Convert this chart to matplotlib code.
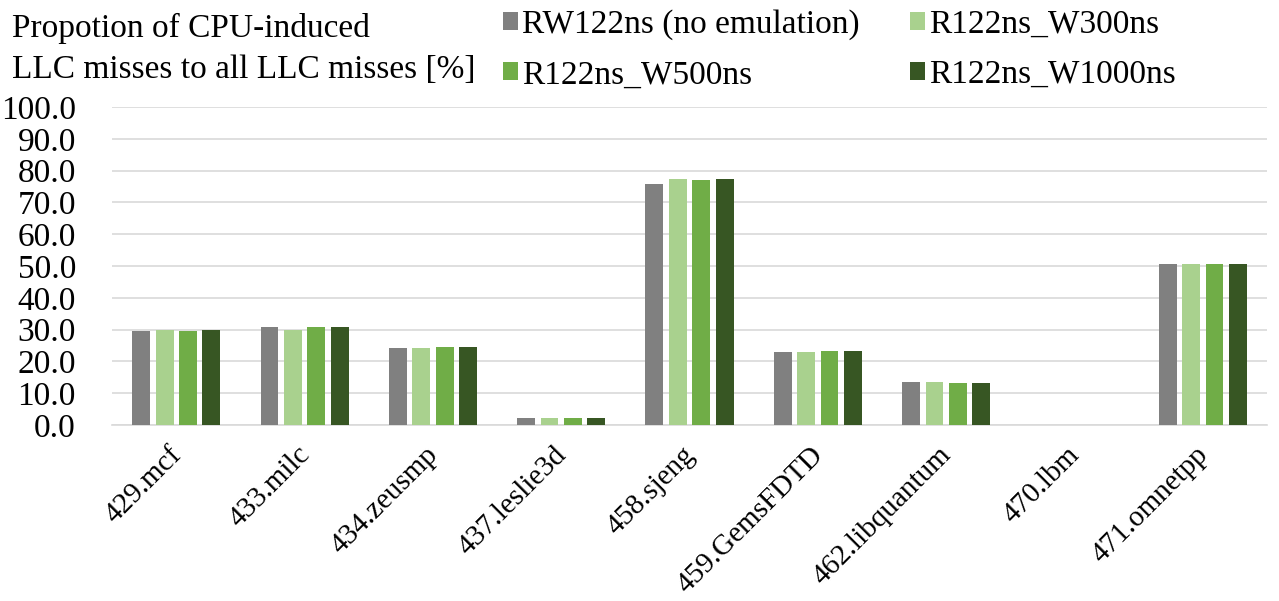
import matplotlib
matplotlib.use("Agg")
import matplotlib.pyplot as plt
import matplotlib.transforms as mtransforms
import numpy as np

categories = ["429.mcf", "433.milc", "434.zeusmp", "437.leslie3d", "458.sjeng",
              "459.GemsFDTD", "462.libquantum", "470.lbm", "471.omnetpp"]
series_names = ["RW122ns (no emulation)", "R122ns_W300ns", "R122ns_W500ns", "R122ns_W1000ns"]
rw122 = [29.6, 30.8, 24.2, 2.3, 75.8, 23.0, 13.4, 0.0, 50.6]
w300 = [29.8, 30.0, 24.3, 2.3, 77.3, 23.0, 13.4, 0.0, 50.6]
w500 = [29.7, 30.8, 24.5, 2.3, 77.2, 23.2, 13.3, 0.0, 50.6]
w1000 = [30.0, 30.8, 24.5, 2.3, 77.4, 23.3, 13.3, 0.0, 50.8]
yticks = [0, 10, 20, 30, 40, 50, 60, 70, 80, 90, 100]
colors = ["#808080", "#A9D18E", "#70AD47", "#375623"]

plt.rcParams['font.family'] = ['Liberation Serif', 'DejaVu Serif']

fig = plt.figure(figsize=(12.79, 6.01), dpi=100)
ax = fig.add_axes([0.0876, 0.2928, 0.903, 0.529])

x = np.arange(len(categories))
width = 0.14
step = 0.182
data = [rw122, w300, w500, w1000]
handles = []
for i, (vals, c, name) in enumerate(zip(data, colors, series_names)):
    h = ax.bar(x + (i - 1.5) * step, vals, width, color=c, label=name, zorder=3)
    handles.append(h)

ax.set_xlim(-0.5, len(categories) - 0.5)
ax.set_ylim(0, 100)
ax.set_yticks(yticks)
ax.set_yticklabels([f"{v:.1f}" for v in yticks], fontsize=24)
ax.set_xticks(x)
ax.set_xticklabels(categories, rotation=45, ha='right', rotation_mode='anchor', fontsize=21)
ax.tick_params(axis='y', length=0, pad=26)
ax.tick_params(axis='x', length=0, pad=12)
offset = mtransforms.ScaledTranslation(-8 / 100, 0, fig.dpi_scale_trans)
for lbl in ax.get_xticklabels():
    lbl.set_transform(lbl.get_transform() + offset)
ax.grid(axis='y', color='#D9D9D9', linewidth=1.2, zorder=0)
for s in ['top', 'right', 'left']:
    ax.spines[s].set_visible(False)
ax.spines['bottom'].set_color('#D9D9D9')
ax.spines['bottom'].set_linewidth(1.2)

fig.text(0.009, 0.978, "Propotion of CPU-induced\nLLC misses to all LLC misses [%]",
         fontsize=24, va='top', ha='left', linespacing=1.42)

order = [0, 2, 1, 3]
fig.legend(handles=[handles[i] for i in order], labels=[series_names[i] for i in order],
           loc='upper left', bbox_to_anchor=(0.370, 1.035), ncol=2, frameon=False, fontsize=24,
           handlelength=0.45, handleheight=0.45, handletextpad=0.12,
           columnspacing=1.5, labelspacing=0.6)

fig.savefig("out.png", dpi=100)
